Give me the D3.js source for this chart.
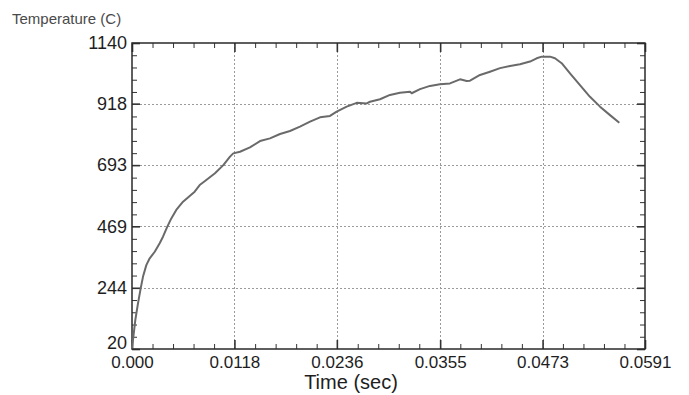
<!DOCTYPE html>
<html>
<head>
<meta charset="utf-8">
<script src="https://cdn.jsdelivr.net/npm/d3@7"></script>
<style>
  html, body { margin: 0; padding: 0; background: #ffffff; }
  svg { display: block; font-family: "Liberation Sans", Arial, sans-serif; }
</style>
</head>
<body>
<svg id="chart" width="689" height="395"></svg>
<script>
// Thermocouple trace: time in seconds, temperature in degrees C
const timeSec = [
  0.00000, 0.00038, 0.00069, 0.00100, 0.00127, 0.00165, 0.00204, 0.00262,
  0.00319, 0.00357, 0.00407, 0.00453, 0.00510, 0.00588, 0.00665, 0.00722,
  0.00780, 0.00841, 0.00956, 0.01052, 0.01129, 0.01167, 0.01244, 0.01359,
  0.01475, 0.01590, 0.01705, 0.01820, 0.01935, 0.02051, 0.02166, 0.02281,
  0.02358, 0.02473, 0.02589, 0.02704, 0.02742, 0.02857, 0.02972, 0.03087,
  0.03203, 0.03222, 0.03318, 0.03433, 0.03548, 0.03663, 0.03779, 0.03856,
  0.03894, 0.04009, 0.04124, 0.04240, 0.04355, 0.04470, 0.04585, 0.04662,
  0.04720, 0.04816, 0.04873, 0.04950, 0.05046, 0.05161, 0.05276, 0.05392,
  0.05507, 0.05614
];
const temperatureC = [
  22, 126, 187, 242, 285, 327, 352, 376,
  407, 431, 468, 498, 529, 559, 580, 596,
  620, 635, 663, 693, 724, 736, 742, 758,
  781, 791, 807, 818, 834, 852, 868, 873,
  889, 907, 921, 919, 925, 934, 950, 958,
  962, 956, 971, 983, 989, 992, 1007, 1001,
  1002, 1023, 1035, 1048, 1056, 1062, 1072, 1084,
  1090, 1090, 1084, 1066, 1029, 986, 943, 907,
  876, 848
];

// Axis tick labels
const xTicks = [0, 0.0118, 0.0236, 0.0355, 0.0473, 0.0591];
const xTickLabels = ["0.000", "0.0118", "0.0236", "0.0355", "0.0473", "0.0591"];
const yTicks = [20, 244, 469, 693, 918, 1140];
const yTickLabels = ["20", "244", "469", "693", "918", "1140"];
const xTitle = "Time (sec)";
const yTitle = "Temperature (C)";

const svg = d3.select("#chart");
const plot = { left: 132, right: 645, top: 43, bottom: 349 };

const x = d3.scaleLinear().domain([0, 0.0591]).range([plot.left, plot.right]);
const y = d3.scaleLinear().domain([20, 1140]).range([plot.bottom, plot.top]);

// Minor ticks: five subdivisions between each pair of major ticks
const xMinor = d3.range(0, 26).map(i => i * 0.0591 / 25).filter((v, i) => i % 5 !== 0);
const yMinor = d3.range(0, 26).map(i => 20 + i * 1120 / 25).filter((v, i) => i % 5 !== 0);

// Dotted grid at interior major ticks
const grid = svg.append("g")
  .attr("stroke", "#9a9a9a")
  .attr("stroke-width", 1)
  .attr("stroke-dasharray", "2,2");
grid.selectAll("line.vx")
  .data(xTicks.slice(1, -1))
  .join("line")
  .attr("x1", d => Math.round(x(d)) + 0.5).attr("x2", d => Math.round(x(d)) + 0.5)
  .attr("y1", plot.top).attr("y2", plot.bottom);
grid.selectAll("line.hy")
  .data(yTicks.slice(1, -1))
  .join("line")
  .attr("x1", plot.left).attr("x2", plot.right)
  .attr("y1", d => Math.round(y(d)) + 0.5).attr("y2", d => Math.round(y(d)) + 0.5);

function styleAxis(g, width) {
  g.select(".domain").remove();
  g.selectAll(".tick line").attr("stroke", "#333").attr("stroke-width", width);
}

// Major ticks with labels (bottom, left), pointing into the plot
const bottomAxis = svg.append("g")
  .attr("transform", `translate(0,${plot.bottom})`)
  .call(d3.axisBottom(x).tickValues(xTicks)
    .tickFormat((d, i) => xTickLabels[i])
    .tickSizeInner(-9).tickSizeOuter(0).tickPadding(7));
styleAxis(bottomAxis, 1.6);
bottomAxis.selectAll("text")
  .attr("font-size", 17).attr("fill", "#1e1e1e")
  .attr("font-family", "'Liberation Sans', Arial, sans-serif");

const leftAxis = svg.append("g")
  .attr("transform", `translate(${plot.left},0)`)
  .call(d3.axisLeft(y).tickValues(yTicks)
    .tickFormat((d, i) => yTickLabels[i])
    .tickSizeInner(-8).tickSizeOuter(0).tickPadding(5));
styleAxis(leftAxis, 1.6);
leftAxis.selectAll("text")
  .attr("font-size", 18).attr("fill", "#1e1e1e")
  .attr("font-family", "'Liberation Sans', Arial, sans-serif")
  .attr("transform", d => d === 20 ? "translate(0,-6)" : null);

// Top and right major ticks without labels
const topAxis = svg.append("g")
  .attr("transform", `translate(0,${plot.top})`)
  .call(d3.axisTop(x).tickValues(xTicks).tickFormat("").tickSizeInner(-9).tickSizeOuter(0));
styleAxis(topAxis, 1.6);
const rightAxis = svg.append("g")
  .attr("transform", `translate(${plot.right},0)`)
  .call(d3.axisRight(y).tickValues(yTicks).tickFormat("").tickSizeInner(-8).tickSizeOuter(0));
styleAxis(rightAxis, 1.6);

// Minor ticks on all four sides
[
  [d3.axisBottom(x).tickValues(xMinor), `translate(0,${plot.bottom})`],
  [d3.axisTop(x).tickValues(xMinor), `translate(0,${plot.top})`],
  [d3.axisLeft(y).tickValues(yMinor), `translate(${plot.left},0)`],
  [d3.axisRight(y).tickValues(yMinor), `translate(${plot.right},0)`]
].forEach(([axis, tr]) => {
  const g = svg.append("g").attr("transform", tr)
    .call(axis.tickFormat("").tickSizeInner(-5).tickSizeOuter(0));
  styleAxis(g, 1);
});

// Plot frame
svg.append("rect")
  .attr("x", plot.left).attr("y", plot.top)
  .attr("width", plot.right - plot.left).attr("height", plot.bottom - plot.top)
  .attr("fill", "none").attr("stroke", "#2a2a2a").attr("stroke-width", 1.5);

// Temperature trace
const line = d3.line()
  .x((d, i) => x(timeSec[i]))
  .y(d => y(d));
svg.append("path")
  .datum(temperatureC)
  .attr("d", line)
  .attr("fill", "none")
  .attr("stroke", "#6a6a6a")
  .attr("stroke-width", 2)
  .attr("stroke-linejoin", "round");

// Axis titles
svg.append("text")
  .attr("x", 351).attr("y", 389)
  .attr("text-anchor", "middle")
  .attr("font-size", 20).attr("fill", "#1e1e1e")
  .text(xTitle);
svg.append("text")
  .attr("x", 12).attr("y", 24)
  .attr("font-size", 15).attr("fill", "#4a4a4a")
  .text(yTitle);
</script>
</body>
</html>
